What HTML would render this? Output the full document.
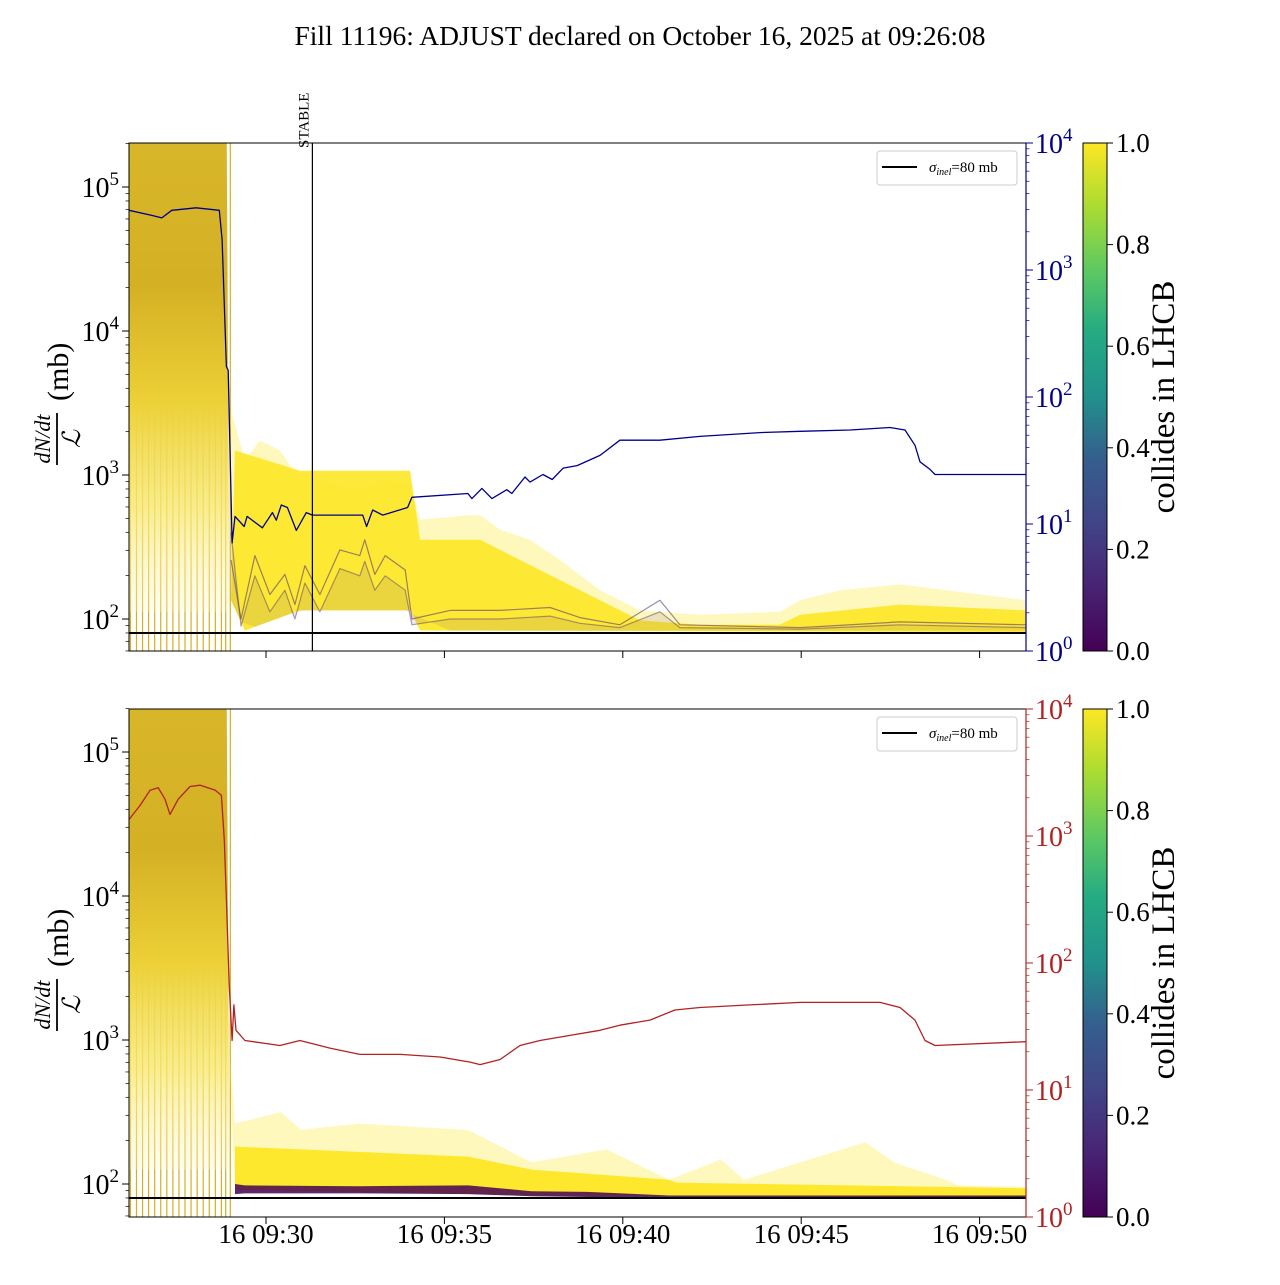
<!DOCTYPE html>
<html><head><meta charset="utf-8"><style>
body{margin:0;background:#fff}
svg text{font-family:"Liberation Serif",serif}
</style></head><body>
<svg id="s" width="1280" height="1280" xmlns="http://www.w3.org/2000/svg">
<defs>
<linearGradient id="vir" x1="0" y1="1" x2="0" y2="0">
<stop offset="0" stop-color="#440154"/><stop offset="0.13" stop-color="#482475"/><stop offset="0.25" stop-color="#414487"/><stop offset="0.38" stop-color="#355f8d"/><stop offset="0.5" stop-color="#21918c"/><stop offset="0.63" stop-color="#25ab82"/><stop offset="0.75" stop-color="#5ec962"/><stop offset="0.88" stop-color="#addc30"/><stop offset="1" stop-color="#fde725"/>
</linearGradient>
<linearGradient id="pre" x1="0" y1="0" x2="0" y2="1">
<stop offset="0" stop-color="#d8b62a"/><stop offset="0.3" stop-color="#d4b024"/><stop offset="0.55" stop-color="#ecd036"/><stop offset="0.78" stop-color="#f8e870" stop-opacity="0.8"/><stop offset="1" stop-color="#fdf6c8" stop-opacity="0.3"/>
</linearGradient>
<clipPath id="c1"><rect x="129" y="143" width="897" height="508"/></clipPath>
<clipPath id="c2"><rect x="129" y="709" width="897" height="508"/></clipPath>
</defs>
<text x="640" y="45" font-size="27.5" text-anchor="middle">Fill 11196: ADJUST declared on October 16, 2025 at 09:26:08</text>
<g id="g1" clip-path="url(#c1)"></g>
<g id="g2" clip-path="url(#c2)"></g>
<g id="ax"></g>
</svg>
<script>
// ---- data (minutes after 09:00, log10 values) ----
const preStart = 26.16, preEnd = 28.9;
const vlineTimes = [26.2,26.37,26.54,26.71,26.88,27.05,27.22,27.39,27.56,27.73,27.9,28.07,28.24,28.41,28.58,28.75,28.87,29.0];
const topOuterT = [28.95,29.02,29.41,29.83,30.39,30.95,31.37,32.07,32.77,33.2,34.04,34.32,35.72,36.0,36.56,37.4,38.24,39.36,40.48,42.16,44.4,44.97,46.09,47.77,51.3];
const topOuterHi = [3.3,3.45,3.10,3.24,3.17,2.97,2.97,2.93,2.90,2.97,2.93,2.69,2.72,2.72,2.62,2.55,2.41,2.20,2.06,2.03,2.05,2.13,2.20,2.24,2.13];
const topCoreT = [29.13,30.95,34.04,34.32,36.0,37.12,38.24,39.36,40.48,42.16,44.4,44.97,47.77,51.3];
const topCoreHi = [3.17,3.03,3.03,2.55,2.55,2.41,2.27,2.13,1.99,1.96,1.96,2.03,2.10,2.06];
const topLowT = [29.02,29.41,30.95,34.04,34.32,51.3];
const topLow = [2.13,1.92,2.06,2.06,1.92,1.91];
const purpleT = [29.02,29.3,29.69,30.11,30.53,30.81,31.09,31.51,32.07,32.63,32.77,33.05,33.34,33.9,34.09,35.16,36.56,37.96,38.8,39.92,41.04,41.6,44.97,47.77,51.3];
const purpleA = [2.41,2.0,2.44,2.17,2.31,2.10,2.37,2.17,2.48,2.44,2.55,2.31,2.44,2.34,2.0,2.06,2.06,2.08,2.01,1.96,2.13,1.96,1.94,1.98,1.96];
const purpleB = [2.6,1.95,2.3,2.05,2.2,2.0,2.25,2.05,2.35,2.3,2.4,2.2,2.3,2.2,1.96,2.0,2.0,2.02,1.97,1.94,2.05,1.94,1.93,1.96,1.94];
const botOuterT = [28.95,29.13,30.42,30.98,32.6,35.67,37.44,39.54,41.3,42.75,43.4,46.8,47.6,49.05,49.4,51.4];
const botOuterHi = [3.0,2.42,2.50,2.375,2.42,2.375,2.15,2.24,2.03,2.17,2.03,2.29,2.15,2.03,1.99,1.98];
const botCoreT = [29.13,35.67,37.44,41.3,41.5,51.4];
const botCoreHi = [2.26,2.19,2.10,2.03,2.01,1.97];
const botLow = [1.96,1.93,1.92,1.92,1.915,1.91];
const botPurpT = [29.13,29.4,32.6,35.67,37.44,39.0,41.3,51.4];
const botPurpHi = [2.0,1.99,1.985,1.99,1.95,1.945,1.92,1.92];
const botPurpLo = [1.93,1.935,1.935,1.93,1.915,1.91,1.905,1.905];
const blueT = [26.16,26.8,27.08,27.36,28.04,28.69,28.77,28.89,28.94,29.05,29.13,29.39,29.47,29.9,30.18,30.29,30.43,30.6,30.85,31.13,31.3,32.71,32.82,32.99,33.27,33.97,34.09,35.66,35.77,36.05,36.33,36.75,36.89,37.26,37.4,37.76,38.02,38.33,38.72,39.36,39.92,41.04,42.16,43.84,44.97,46.37,47.49,47.91,48.19,48.33,48.61,48.75,51.3];
const blueV = [3.47,3.43,3.41,3.47,3.49,3.47,3.24,2.24,2.21,0.85,1.06,0.98,1.06,0.97,1.09,1.03,1.15,1.13,0.95,1.09,1.07,1.07,0.98,1.11,1.07,1.13,1.21,1.24,1.20,1.28,1.20,1.27,1.24,1.37,1.33,1.39,1.35,1.44,1.46,1.54,1.66,1.66,1.69,1.72,1.73,1.74,1.76,1.74,1.62,1.49,1.43,1.39,1.39];
const redT = [26.16,26.47,26.75,26.98,27.17,27.31,27.54,27.87,28.16,28.58,28.75,28.83,28.89,28.97,29.05,29.1,29.16,29.41,30.39,30.95,31.79,32.63,33.76,34.88,35.72,36.0,36.56,37.12,37.68,38.52,39.36,39.92,40.76,41.46,42.16,43.56,44.97,46.37,47.21,47.77,48.19,48.47,48.75,51.3];
const redV = [3.13,3.24,3.36,3.38,3.29,3.17,3.29,3.39,3.40,3.36,3.32,2.97,2.50,1.83,1.39,1.67,1.47,1.39,1.35,1.39,1.33,1.28,1.28,1.26,1.22,1.20,1.24,1.35,1.39,1.43,1.47,1.51,1.55,1.63,1.65,1.67,1.69,1.69,1.69,1.65,1.55,1.39,1.35,1.38];
const sigmaInel = 80;
const stableT = 31.3;
const xTicks = [30,35,40,45,50];
const xTickLabels = ["16 09:30","16 09:35","16 09:40","16 09:45","16 09:50"];
const cbTicks = [0,0.2,0.4,0.6,0.8,1.0];

const X0=129,X1=1026;
const xs = t => 266 + (t-30)*35.68;
const P = [{top:143,bot:651,dec0:187},{top:709,bot:1217,dec0:752}];
const yl = (p,L) => P[p].dec0 + (5-L)*144;
const yr = (p,R) => P[p].bot - R*127;
const NS="http://www.w3.org/2000/svg";
function mk(tag,attrs,parent){const e=document.createElementNS(NS,tag);for(const k in attrs)e.setAttribute(k,attrs[k]);parent.appendChild(e);return e;}
function interp(T,V,t){if(t<=T[0])return V[0];for(let i=1;i<T.length;i++){if(t<=T[i]){const f=(t-T[i-1])/(T[i]-T[i-1]);return V[i-1]+f*(V[i]-V[i-1]);}}return V[V.length-1];}
function band(p,Th,Vh,Tl,Vl,fill,op,g,name){
  let d='M'+Th.map((t,i)=>xs(t).toFixed(1)+','+yl(p,Vh[i]).toFixed(1)).join('L');
  for(let i=Tl.length-1;i>=0;i--) d+='L'+xs(Tl[i]).toFixed(1)+','+yl(p,Vl[i]).toFixed(1);
  const e=mk('path',{d:d+'Z',fill:fill,'fill-opacity':op},g);
  
  
}
function line(p,T,V,yf,stroke,w,g,name,op){
  const d='M'+T.map((t,i)=>xs(t).toFixed(1)+','+yf(p,V[i]).toFixed(1)).join('L');
  const e=mk('path',{d:d,fill:'none',stroke:stroke,'stroke-width':w,'stroke-opacity':op||1,'stroke-linejoin':'round'},g);
  
  
}
[document.getElementById('g1'),document.getElementById('g2')].forEach((g,p)=>{
  vlineTimes.forEach(t=>{
    const e=mk('line',{x1:xs(t),x2:xs(t),y1:P[p].top,y2:P[p].bot,stroke:'#d4b020','stroke-width':1.2},g);
    
    
  });
  const lowPre = p===0 ? 2.05 : 2.1;
  const r=mk('path',{d:`M${xs(preStart)},${P[p].top}L${xs(preEnd)},${P[p].top}L${xs(preEnd+0.08)},${yl(p,lowPre)}L${xs(preStart)},${yl(p,lowPre)}Z`,fill:'url(#pre)'},g);
  
  
  if(p===0){
    band(0,topOuterT,topOuterHi,topLowT,topLow,'#fde725',0.3,g,'rate-bundle-outer');
    band(0,topCoreT,topCoreHi,topLowT,topLow,'#fde725',0.9,g,'rate-bundle-core');
    band(0,purpleT,purpleB,purpleT,purpleT.map(t=>Math.max(1.92,interp(topLowT,topLow,t))),'#6a4a88',0.12,g,'non-colliding-bundle');
    line(0,purpleT,purpleA,yl,'#5a3a78',1.2,g,'non-colliding-rate-line',0.6);
    line(0,purpleT,purpleB,yl,'#5a3a78',1.2,g,'non-colliding-rate-line',0.5);
  } else {
    band(1,botOuterT,botOuterHi,botCoreT,botLow,'#fde725',0.3,g,'rate-bundle-outer');
    band(1,botCoreT,botCoreHi,botCoreT,botLow,'#fde725',0.95,g,'rate-bundle-core');
    band(1,botPurpT,botPurpHi,botPurpT,botPurpLo,'#440154',0.85,g,'non-colliding-bundle');
  }
  const L=Math.log10(sigmaInel);
  const e=mk('line',{x1:X0,x2:X1,y1:yl(p,L),y2:yl(p,L),stroke:'#000','stroke-width':2},g);
  
  
  if(p===0){
    line(0,blueT,blueV,yr,'#00008b',1.3,g,'luminosity-line-blue');
    const s=mk('line',{x1:xs(stableT),x2:xs(stableT),y1:143,y2:651,stroke:'#000','stroke-width':1.2},g);
    
    
  } else line(1,redT,redV,yr,'#b22222',1.3,g,'luminosity-line-red');
});
const ax=document.getElementById('ax');
function txt(x,y,s,attrs,name){const e=mk('text',Object.assign({x:x,y:y},attrs||{}),ax);e.innerHTML=s;return e;}
P.forEach((pp,p)=>{
  const rc = p===0?'#00008b':'#b22222';
  const fr=mk('rect',{x:X0,y:pp.top,width:X1-X0,height:pp.bot-pp.top,fill:'none',stroke:'#000','stroke-width':1},ax);
  
  const rs=mk('line',{x1:X1,x2:X1,y1:pp.top,y2:pp.bot,stroke:rc,'stroke-width':1.2},ax);
  
  for(let d=1;d<=5;d++){for(let m=1;m<10;m++){const y=yl(p,d+Math.log10(m));if(y<pp.top-0.5||y>pp.bot+0.5)continue;
    mk('line',{x1:X0,x2:X0-(m===1?7:3.5),y1:y,y2:y,stroke:'#000','stroke-width':m===1?1:0.7},ax);
    if(m===1&&d>=2) txt(X0-10,y+10,`10<tspan dy="-12" font-size="19">${d}</tspan>`,{'font-size':28,'text-anchor':'end'},'left-tick-label');}}
  for(let d=0;d<=4;d++){for(let m=1;m<10;m++){const R=d+Math.log10(m);if(R>4.0001)continue;const y=yr(p,R);
    mk('line',{x1:X1,x2:X1+(m===1?7:3.5),y1:y,y2:y,stroke:rc,'stroke-width':m===1?1:0.7},ax);
    if(m===1) txt(X1+9,y+10,`10<tspan dy="-12" font-size="19">${d}</tspan>`,{'font-size':28,fill:rc},'right-tick-label');}}
  xTicks.forEach((t,i)=>{const x=xs(t);mk('line',{x1:x,x2:x,y1:pp.bot,y2:pp.bot+7,stroke:'#000'},ax);
    if(p===1) txt(x,1243,xTickLabels[i],{'font-size':27,'text-anchor':'middle'},'x-tick-label');});
  const cy=(pp.top+pp.bot)/2-10;
  const g=mk('g',{transform:`translate(60,${cy}) rotate(-90)`},ax);
  
  mk('text',{x:-52,y:-10,'font-size':22,'font-style':'italic','text-anchor':'middle'},g).textContent='dN/dt';
  mk('line',{x1:-78,x2:-26,y1:-3,y2:-3,stroke:'#000','stroke-width':1.8},g);
  mk('text',{x:-52,y:20,'font-size':25,'font-style':'italic','text-anchor':'middle'},g).textContent='ℒ';
  mk('text',{x:-14,y:8,'font-size':30},g).textContent='(mb)';
  const ly=pp.top+8;
  const lb=mk('rect',{x:877,y:ly,width:140,height:34,rx:3,fill:'#fff','fill-opacity':0.8,stroke:'#ccc'},ax);
  
  mk('line',{x1:882,x2:917,y1:ly+16,y2:ly+16,stroke:'#000','stroke-width':2},ax);
  txt(929,ly+21,'<tspan font-style="italic">σ</tspan><tspan font-style="italic" font-size="10" dy="3">inel</tspan><tspan dy="-3">=80 mb</tspan>',{'font-size':15},'legend-entry');
  const cb=mk('rect',{x:1083,y:pp.top,width:24,height:pp.bot-pp.top,fill:'url(#vir)',stroke:'#000','stroke-width':1},ax);
  
  cbTicks.forEach(v=>{const y=pp.bot-v*(pp.bot-pp.top);mk('line',{x1:1107,x2:1113,y1:y,y2:y,stroke:'#000'},ax);
    txt(1116,y+9,v.toFixed(1),{'font-size':27},'colorbar-tick-label');});
  txt(0,0,'collides in LHCB',{'font-size':33,'text-anchor':'middle',transform:`translate(1174,${(pp.top+pp.bot)/2}) rotate(-90)`},'colorbar-title');
});
txt(0,0,'STABLE',{'font-size':15,transform:`translate(${xs(stableT)-4},148) rotate(-90)`},'stable-label');
</script>
</body></html>
